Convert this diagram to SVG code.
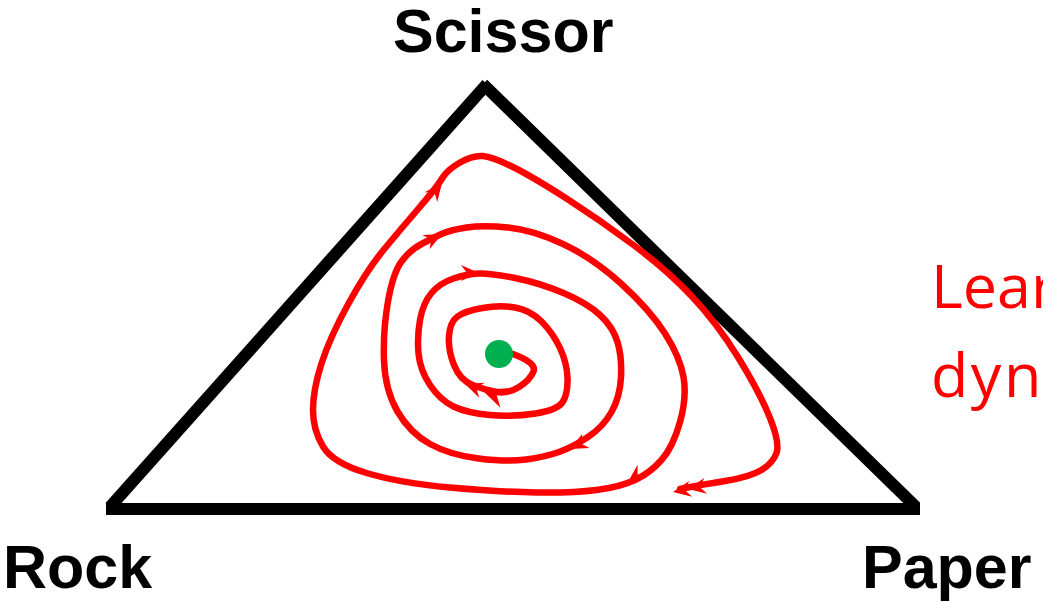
<svg xmlns="http://www.w3.org/2000/svg" width="1043" height="602" viewBox="0 0 1043 602">
<style>
.edge{stroke:#000;stroke-width:12;fill:none;stroke-linecap:butt}
.lbl{font-family:"Liberation Sans",Arial,sans-serif;font-weight:bold;font-size:61px;fill:#000}
.red{font-family:"Open Sans","Liberation Sans",Arial,sans-serif;font-size:61px;fill:#FF0000}
.traj{stroke:#FF0000;stroke-width:6.5;fill:none;stroke-linecap:round;stroke-linejoin:round}
.ah{fill:#FF0000}
</style>
<defs>
<path id="ah" d="M0,0 L-18,-8 L-12,0 L-18,8 Z"/>
</defs>
<rect width="1043" height="602" fill="#fff"/>
<g id="simplex">
<line class="edge" x1="110" y1="507" x2="487" y2="84"/>
<line class="edge" x1="483" y1="84" x2="916" y2="507"/>
<line class="edge" x1="106" y1="509" x2="920" y2="509"/>
</g>
<g id="label-scissor"><text class="lbl" x="393" y="52">Scissor</text></g>
<g id="label-rock"><text class="lbl" x="3" y="588">Rock</text></g>
<g id="label-paper"><text class="lbl" x="862" y="588">Paper</text></g>
<g id="label-dynamics">
<text class="red" x="931" y="308">Learning</text>
<text class="red" x="931" y="397" letter-spacing="2.5">dynamics</text>
</g>
<g id="connectors">
<path class="traj" d="M513,354 Q537,363 533.5,371.5 Q530,380 519,387 Q508,394 496.5,392 Q485,390 472.5,385 Q460,380 454,365 Q448,350 449,336 Q450,322 457.5,316.5 Q465,311 482.5,308 Q500,305 515,307.5 Q530,310 541.5,321.5 Q553,333 560,348 Q567,363 567.5,378 Q568,393 563,401.5 Q558,410 535.5,413.5 Q513,417 490,415 Q467,413 453.5,406.5 Q440,400 430,385 Q420,370 418.5,353.5 Q417,337 420,320 Q423,303 431.5,293 Q440,283 453.5,278.5 Q467,274 478.5,273.5 Q490,273 515,278 Q540,283 563.5,293 Q587,303 600,315 Q613,327 617.5,342 Q622,357 621,377 Q620,397 611.5,412 Q603,427 588,437 Q573,447 559,452 Q545,457 526,459.5 Q507,462 478.5,458.5 Q450,455 430,444 Q410,433 397.5,411.5 Q385,390 384,360 Q383,330 388,301.5 Q393,273 401.5,261.5 Q410,250 421.5,244 Q433,238 441.5,234 Q450,230 466.5,227.5 Q483,225 508,227.5 Q533,230 563,244 Q593,258 621.5,284 Q650,310 665,333.5 Q680,357 683.5,377 Q687,397 680,422 Q673,447 661.5,460 Q650,473 635,480 Q620,487 596.5,490 Q573,493 536.5,492.5 Q500,492 450,487.5 Q400,483 366.5,473 Q333,463 323,446.5 Q313,430 313,410 Q313,390 321.5,363.5 Q330,337 348.5,303.5 Q367,270 383.5,250 Q400,230 418.5,208.5 Q437,187 442,178.5 Q447,170 460,162.5 Q473,155 483,156 Q493,157 513,167 Q533,177 566.5,198.5 Q600,220 633.5,245 Q667,270 692,296.5 Q717,323 738.5,358 Q760,393 770,418 Q780,443 776.5,453 Q773,463 761.5,470 Q750,477 725,481 Q700,485 687.5,487.5 L680,489"/>
<g class="ah">
<use href="#ah" transform="translate(482,390) rotate(200) scale(1.3)"/>
<use href="#ah" transform="translate(465,384) rotate(200)"/>
<use href="#ah" transform="translate(479,273) rotate(0)"/>
<use href="#ah" transform="translate(570,449) rotate(153)"/>
<use href="#ah" transform="translate(442,234) rotate(-27)"/>
<use href="#ah" transform="translate(628,482) rotate(143)"/>
<use href="#ah" transform="translate(442,183) rotate(-52)"/>
<use href="#ah" transform="translate(688,489) rotate(170)"/>
<use href="#ah" transform="translate(673,492) rotate(170)"/>
</g>
</g>
<g id="equilibrium"><circle cx="499" cy="354" r="14" fill="#00B050"/></g>
</svg>
